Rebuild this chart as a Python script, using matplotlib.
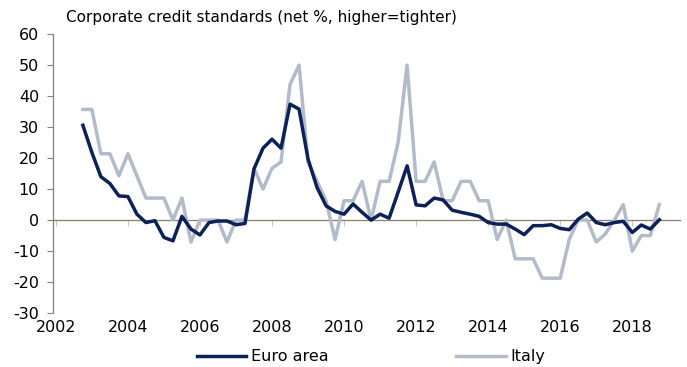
import numpy as np
import pandas as pd
import matplotlib
matplotlib.use("Agg")
import matplotlib.pyplot as plt

# quarterly survey rounds, 2002Q4 .. 2018Q4
quarters = pd.period_range("2002Q4", "2018Q4", freq="Q")

euro_area = [30.6, 21.8, 14.0, 11.8, 7.8, 7.6, 1.9, -0.8, -0.2, -5.6,
             -6.7, 1.2, -2.9, -4.8, -0.8, -0.3, -0.3, -1.5, -1.1, 16.5,
             23.2, 26.1, 23.2, 37.4, 35.8, 19.7, 10.5, 4.6, 2.8, 1.9,
             5.2, 2.5, 0.0, 1.9, 0.6, 9.0, 17.5, 4.9, 4.6, 7.1,
             6.5, 3.2, 2.5, 1.9, 1.2, -0.8, -1.3, -1.3, -2.9, -4.7,
             -1.8, -1.8, -1.5, -2.7, -3.1, 0.3, 2.3, -0.8, -1.5, -0.8,
             -0.4, -4.0, -1.6, -2.9, 0.1]

italy = [35.7, 35.7, 21.4, 21.4, 14.3, 21.4, 14.3, 7.1, 7.1, 7.1,
         0.0, 7.1, -7.1, 0.0, 0.0, 0.0, -7.1, 0.0, 0.0, 16.7,
         10.0, 16.7, 18.75, 43.75, 50.0, 18.75, 12.5, 6.25, -6.25, 6.25,
         6.25, 12.5, 0.0, 12.5, 12.5, 25.0, 50.0, 12.5, 12.5, 18.75,
         6.25, 6.25, 12.5, 12.5, 6.25, 6.25, -6.25, 0.0, -12.5, -12.5,
         -12.5, -18.75, -18.75, -18.75, -6.25, 0.0, 0.0, -7.1, -4.5, 0.0,
         5.0, -10.0, -5.0, -5.0, 5.0]

year_ticks = list(range(2002, 2019, 2))
y_ticks = list(range(-30, 61, 10))

x = quarters.year + (quarters.quarter - 1) / 4

plt.rcParams["font.family"] = "DejaVu Sans"
plt.rcParams["axes.unicode_minus"] = False
axis_col = "#8c7f6e"

fig = plt.figure(figsize=(6.87, 3.67), dpi=100)
ax = fig.add_axes([0.0771, 0.147, 0.913, 0.760])

ax.plot(x, italy, color="#b3bbca", lw=2.5, label="Italy", zorder=3)
ax.plot(x, euro_area, color="#0c2157", lw=2.5, label="Euro area", zorder=4)

ax.set_xlim(2001.92, 2019.33)
ax.set_ylim(-30, 60)
ax.set_yticks(y_ticks)

for s in ["top", "right"]:
    ax.spines[s].set_visible(False)
ax.spines["left"].set_color(axis_col)
ax.spines["left"].set_linewidth(0.9)
ax.spines["bottom"].set_position(("data", 0))
ax.spines["bottom"].set_color(axis_col)
ax.spines["bottom"].set_linewidth(0.9)
ax.spines["bottom"].set_zorder(2)

ax.set_xticks(year_ticks)
ax.tick_params(axis="x", length=4, width=0.8, color="#c8c8c8",
               labelbottom=False)
ax.tick_params(axis="y", length=4, width=0.8, color=axis_col,
               labelsize=11.5, pad=6)

sec = ax.secondary_xaxis("bottom")
sec.set_xticks(year_ticks)
sec.spines["bottom"].set_visible(False)
sec.tick_params(length=0, labelsize=11.5, pad=5)

fig.text(0.096, 0.952, "Corporate credit standards (net %, higher=tighter)",
         fontsize=11, va="center", ha="left")

h, l = ax.get_legend_handles_labels()
fig.legend(h[::-1], l[::-1], loc="center", bbox_to_anchor=(0.54, 0.028),
           ncol=2, frameon=False, fontsize=11.5, handlelength=3.1,
           handletextpad=0.3, columnspacing=8.0)

fig.savefig("out.png", dpi=100)
